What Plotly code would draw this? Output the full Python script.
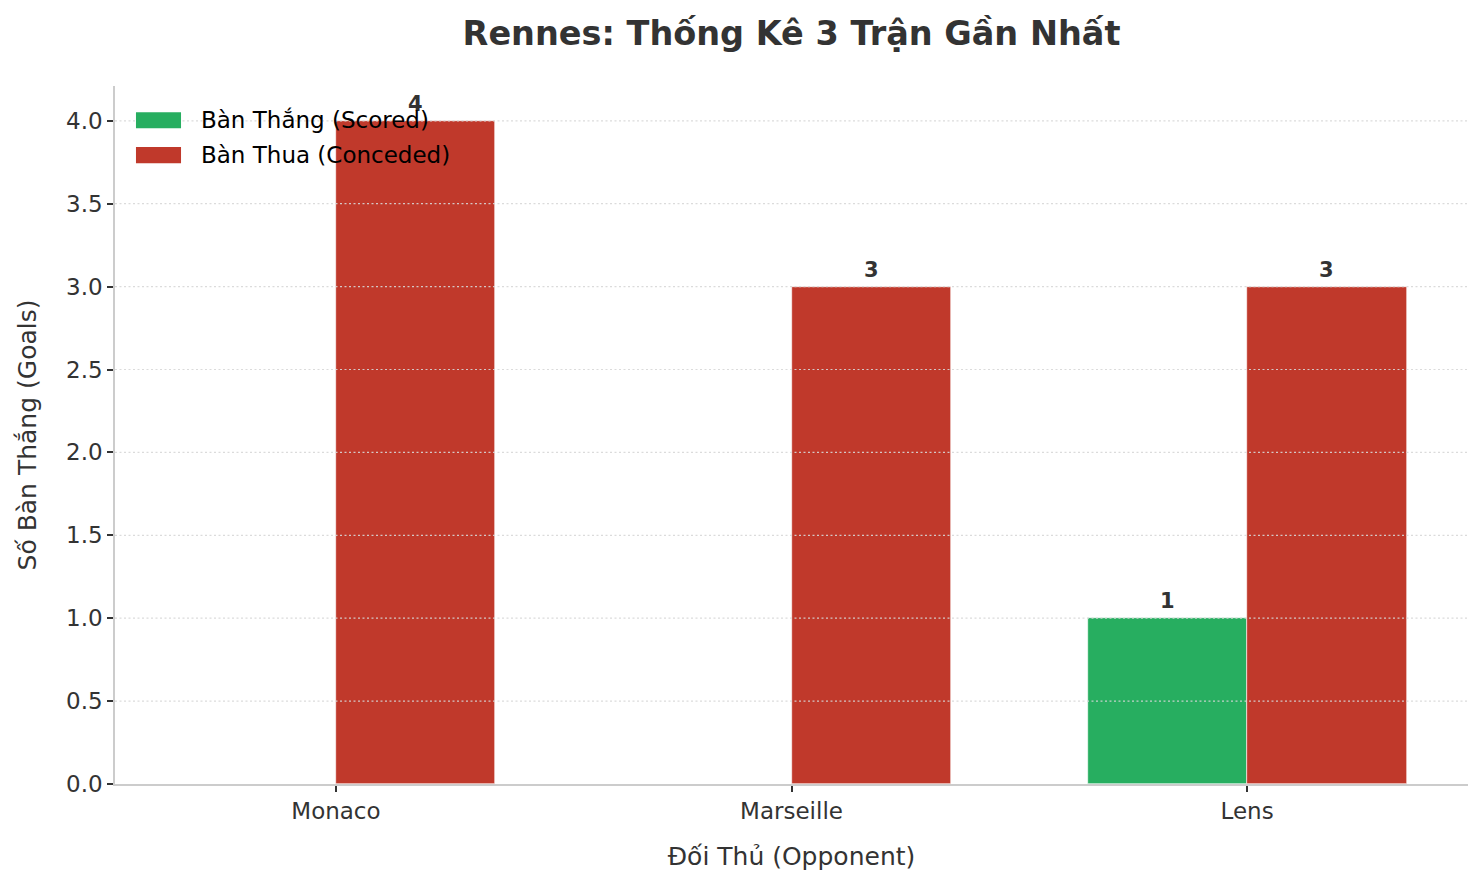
import plotly.graph_objects as go

opponents = ["Monaco", "Marseille", "Lens"]
scored = [0, 0, 1]
conceded = [4, 3, 3]
series_names = ["Bàn Thắng (Scored)", "Bàn Thua (Conceded)"]
y_ticks = [0.0, 0.5, 1.0, 1.5, 2.0, 2.5, 3.0, 3.5, 4.0]

green = "#27ae60"
red = "#c0392b"
dark = "#333333"
font_family = "DejaVu Sans, Verdana, sans-serif"
bar_w = 0.35

idx = list(range(len(opponents)))

fig = go.Figure()
fig.add_trace(go.Bar(
    x=idx, y=scored, name=series_names[0],
    width=bar_w, offset=-bar_w,
    marker=dict(color=green, line=dict(width=0.6, color="white")),
    showlegend=False,
))
fig.add_trace(go.Bar(
    x=idx, y=conceded, name=series_names[1],
    width=bar_w, offset=0,
    marker=dict(color=red, line=dict(width=0.6, color="white")),
    showlegend=False,
))

# dotted grid drawn over the bars (matplotlib puts it on top here)
for v in y_ticks[1:]:
    fig.add_shape(type="line", xref="paper", x0=0, x1=1, y0=v, y1=v,
                  line=dict(color="rgba(215,215,215,0.9)", width=1.2, dash="2px,2.5px"),
                  layer="above")

# value labels above non-zero bars
for i in idx:
    for val, dx in ((scored[i], -bar_w / 2), (conceded[i], bar_w / 2)):
        if val > 0:
            fig.add_annotation(
                x=i + dx, y=val, text=f"<b>{val}</b>", showarrow=False,
                yanchor="bottom", yshift=3,
                font=dict(size=21, color=dark, family=font_family),
            )

# legend drawn as wide patches like matplotlib
legend_rows = [(series_names[0], green, 0.951), (series_names[1], red, 0.901)]
for label, color, yy in legend_rows:
    fig.add_shape(type="rect", xref="paper", yref="paper",
                  x0=0.0155, x1=0.0488, y0=yy - 0.0115, y1=yy + 0.0115,
                  fillcolor=color, line=dict(width=0), layer="above")
    fig.add_annotation(xref="paper", yref="paper", x=0.0618, y=yy,
                       text=label, showarrow=False, xanchor="left", yanchor="middle",
                       font=dict(size=23, color="black", family=font_family))

# page body keeps an 8px margin, so the figure is shrunk and shifted to match
fig.update_layout(
    width=1466, height=868,
    margin=dict(l=107, r=6, t=78, b=92),
    paper_bgcolor="white", plot_bgcolor="white",
    font=dict(family=font_family, color=dark),
    title=dict(text="<b>Rennes: Thống Kê 3 Trận Gần Nhất</b>",
               xref="paper", x=0.5, xanchor="center", y=0.9712, yanchor="middle",
               font=dict(size=33.5, color=dark, family=font_family)),
    bargap=0,
)

fig.update_xaxes(
    range=[-0.485, 2.485],
    tickmode="array", tickvals=idx, ticktext=opponents,
    showgrid=False, zeroline=False,
    showline=True, linecolor="#cccccc", linewidth=1.5,
    ticks="outside", ticklen=6, tickwidth=1.5, tickcolor=dark,
    tickfont=dict(size=23, color=dark),
    title=dict(text="Đối Thủ (Opponent)", font=dict(size=25, color=dark), standoff=24),
)

fig.update_yaxes(
    range=[0, 4.21],
    tickmode="array", tickvals=y_ticks, ticktext=[f"{v:.1f}" for v in y_ticks],
    showgrid=False, zeroline=False,
    showline=True, linecolor="#cccccc", linewidth=1.5,
    ticks="outside", ticklen=6, tickwidth=1.5, tickcolor=dark,
    tickfont=dict(size=23, color=dark),
    title=dict(text="Số Bàn Thắng (Goals)", font=dict(size=25, color=dark), standoff=22),
)

fig.write_html("out.html")
